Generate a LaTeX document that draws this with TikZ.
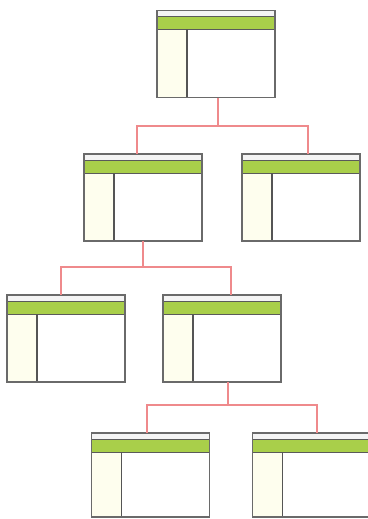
\documentclass[tikz,border=0pt]{standalone}
\usetikzlibrary{calc}
\definecolor{bandgreen}{HTML}{A9CF4A}
\definecolor{framegray}{HTML}{6A6A6A}
\definecolor{stripgray}{HTML}{F4F4F4}
\definecolor{sidecream}{HTML}{FEFEEE}
\definecolor{linkred}{HTML}{EF8A8C}
\tikzset{
  x=1pt, y=-1pt,
  table/.style={
    draw=framegray, line width=1.6pt, fill=white,
    minimum width=118pt, minimum height=87pt,
    inner sep=0pt, outer sep=0pt,
    path picture={
      \coordinate (nw) at (path picture bounding box.north west);
      \coordinate (ne) at (path picture bounding box.north east);
      \coordinate (sw) at (path picture bounding box.south west);
      % title strip
      \fill[stripgray] (nw) rectangle ($(ne)+(0,6)$);
      % green header band
      \filldraw[fill=bandgreen, draw=framegray!85!black, line width=0.9pt]
        ($(nw)+(-2,6)$) rectangle ($(ne)+(2,19)$);
      % left column
      \fill[sidecream] ($(nw)+(0,19.5)$) rectangle ($(sw)+(30,0)$);
      \draw[framegray!80!black, line width=1.7pt]
        ($(nw)+(30,19)$) -- ($(sw)+(30,0)$);
    }},
  short table/.style={table, minimum height=84pt},
  link/.style={draw=linkred, line width=1.3pt}
}
\begin{document}
\begin{tikzpicture}
\useasboundingbox (0,0) rectangle (367,519);
\fill[white] (0,0) rectangle (367,519);

% tables
\node[table] (r) at (216,54) {};
\node[table] (a) at (143,197.5) {};
\node[table] (b) at (301,197.5) {};
\node[table] (c) at (66,338.5) {};
\node[table] (d) at (222,338.5) {};
\node[short table] (e) at (150.5,475) {};
\node[short table] (f) at (311.5,475) {};

% junctions of the tree links
\coordinate (j1) at (218,126);
\coordinate (j2) at (143,267);
\coordinate (j3) at (228,405);

\draw[link] ([xshift=2pt]r.south) -- (j1);
\draw[link] ([xshift=-6pt]a.north) |- (j1) -| ([xshift=7pt]b.north);

\draw[link] (a.south) -- (j2);
\draw[link] ([xshift=-5pt]c.north) |- (j2) -| ([xshift=9pt]d.north);

\draw[link] ([xshift=6pt]d.south) -- (j3);
\draw[link] ([xshift=-3.5pt]e.north) |- (j3) -| ([xshift=5.5pt]f.north);
\end{tikzpicture}
\end{document}
